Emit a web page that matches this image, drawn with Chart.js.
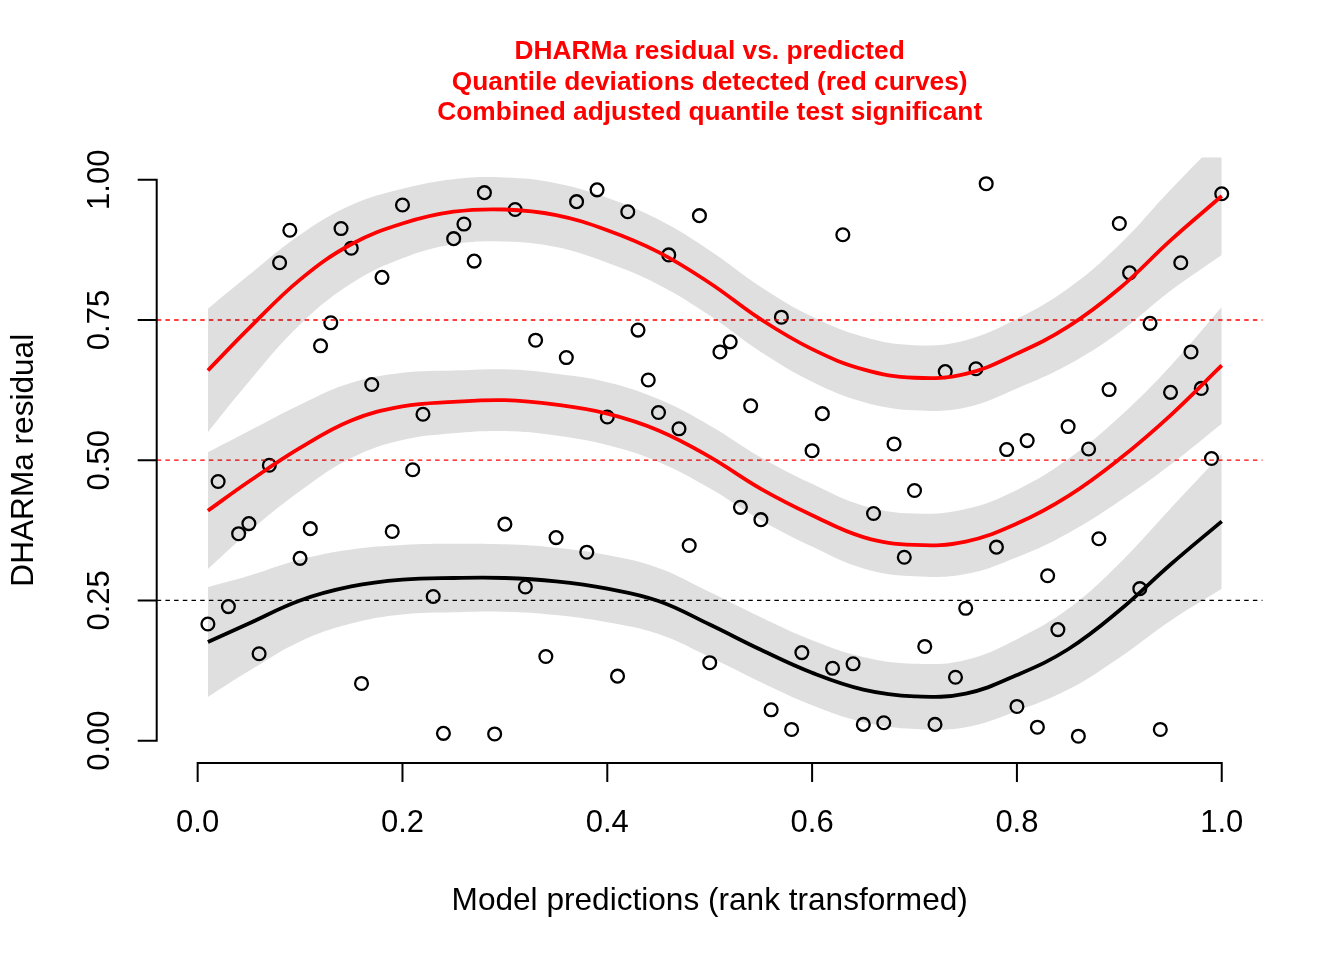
<!DOCTYPE html>
<html>
<head>
<meta charset="utf-8">
<script src="https://cdn.jsdelivr.net/npm/chart.js@4/dist/chart.umd.min.js"></script>
<style>
html,body{margin:0;padding:0;background:#ffffff;}
#wrap{width:1344px;height:960px;position:relative;}
canvas{display:block;}
</style>
</head>
<body>
<div id="wrap"><canvas id="c" width="1344" height="960"></canvas></div>
<script>
// ---------- texts ----------
const titleLines = [
  'DHARMa residual vs. predicted',
  'Quantile deviations detected (red curves)',
  'Combined adjusted quantile test significant'
];
const xAxisTitle = 'Model predictions (rank transformed)';
const yAxisTitle = 'DHARMa residual';

// ---------- axes ----------
const xLimits = [-0.04, 1.04];
const yLimits = [-0.04, 1.04];
const xTicks = [0, 0.2, 0.4, 0.6, 0.8, 1.0];
const xTickLabels = ['0.0', '0.2', '0.4', '0.6', '0.8', '1.0'];
const yTicks = [0, 0.25, 0.5, 0.75, 1.0];
const yTickLabels = ['0.00', '0.25', '0.50', '0.75', '1.00'];
const refLevels = [0.25, 0.5, 0.75];

// ---------- scaled residuals (rank transformed predictions) ----------
const predX = [
  0.01,0.02,0.03,0.04,0.05,0.06,0.07,0.08,0.09,0.10,
  0.11,0.12,0.13,0.14,0.15,0.16,0.17,0.18,0.19,0.20,
  0.21,0.22,0.23,0.24,0.25,0.26,0.27,0.28,0.29,0.30,
  0.31,0.32,0.33,0.34,0.35,0.36,0.37,0.38,0.39,0.40,
  0.41,0.42,0.43,0.44,0.45,0.46,0.47,0.48,0.49,0.50,
  0.51,0.52,0.53,0.54,0.55,0.56,0.57,0.58,0.59,0.60,
  0.61,0.62,0.63,0.64,0.65,0.66,0.67,0.68,0.69,0.70,
  0.71,0.72,0.73,0.74,0.75,0.76,0.77,0.78,0.79,0.80,
  0.81,0.82,0.83,0.84,0.85,0.86,0.87,0.88,0.89,0.90,
  0.91,0.92,0.93,0.94,0.95,0.96,0.97,0.98,0.99,1.00
];
const residual = [
  0.208,0.462,0.239,0.369,0.387,0.155,0.491,0.852,0.910,0.325,
  0.378,0.704,0.745,0.913,0.878,0.102,0.635,0.826,0.373,0.955,
  0.483,0.582,0.257,0.013,0.895,0.921,0.855,0.977,0.012,0.386,
  0.947,0.274,0.714,0.150,0.362,0.683,0.961,0.336,0.982,0.577,
  0.115,0.943,0.732,0.643,0.585,0.866,0.556,0.348,0.936,0.139,
  0.693,0.711,0.416,0.597,0.394,0.055,0.755,0.020,0.157,0.517,
  0.583,0.129,0.902,0.137,0.029,0.405,0.032,0.529,0.327,0.446,
  0.168,0.029,0.658,0.113,0.236,0.663,0.993,0.345,0.519,0.061,
  0.535,0.024,0.294,0.198,0.560,0.008,0.520,0.360,0.626,0.922,
  0.834,0.271,0.744,0.020,0.621,0.852,0.693,0.628,0.503,0.975
];

// ---------- quantile regression curves and their bands ----------
const curveX = [0.01,0.05,0.10,0.15,0.20,0.25,0.30,0.35,0.40,0.45,0.50,0.55,0.60,0.65,0.70,0.75,0.80,0.85,0.90,0.95,1.00];

const q25Fit = [0.176,0.209,0.250,0.275,0.287,0.290,0.290,0.284,0.271,0.249,0.207,0.162,0.121,0.091,0.079,0.084,0.117,0.163,0.232,0.314,0.391];
const q25Lo  = [0.078,0.124,0.177,0.209,0.225,0.229,0.230,0.224,0.211,0.190,0.149,0.104,0.063,0.033,0.021,0.024,0.053,0.091,0.148,0.214,0.271];
const q25Hi  = [0.274,0.294,0.323,0.341,0.349,0.351,0.350,0.344,0.331,0.308,0.265,0.220,0.179,0.149,0.137,0.144,0.181,0.235,0.316,0.414,0.511];

const q50Fit = [0.410,0.462,0.522,0.571,0.596,0.604,0.607,0.599,0.583,0.553,0.506,0.449,0.402,0.363,0.349,0.355,0.387,0.436,0.502,0.580,0.669];
const q50Lo  = [0.306,0.372,0.445,0.504,0.536,0.548,0.552,0.544,0.527,0.497,0.450,0.393,0.346,0.307,0.293,0.297,0.327,0.370,0.427,0.492,0.565];
const q50Hi  = [0.514,0.552,0.599,0.638,0.656,0.660,0.662,0.654,0.639,0.609,0.562,0.505,0.458,0.419,0.405,0.413,0.447,0.502,0.577,0.668,0.773];

const q75Fit = [0.660,0.735,0.822,0.885,0.922,0.943,0.947,0.937,0.910,0.871,0.816,0.751,0.698,0.662,0.647,0.654,0.690,0.738,0.806,0.892,0.971];
const q75Lo  = [0.550,0.640,0.742,0.815,0.860,0.885,0.890,0.880,0.852,0.813,0.758,0.693,0.640,0.604,0.589,0.594,0.628,0.670,0.728,0.802,0.866];
const q75Hi  = [0.770,0.830,0.902,0.955,0.984,1.001,1.004,0.994,0.968,0.929,0.874,0.809,0.756,0.720,0.705,0.714,0.752,0.806,0.884,0.982,1.076];

// ---------- build ----------
const FONT = "'Liberation Sans', Arial, Helvetica, sans-serif";
const RED = '#FF0000';
const BAND = 'rgba(0,0,0,0.1255)';
const pts = (xs, ys) => xs.map((x, i) => ({x: x, y: ys[i]}));

const datasets = [];
// points (bottom layer)
datasets.push({
  label: 'residuals', data: pts(predX, residual), showLine: false,
  pointStyle: 'circle', pointRadius: 6.4, pointHoverRadius: 6.4,
  pointBorderWidth: 2.3, pointBorderColor: '#000000',
  pointBackgroundColor: 'rgba(0,0,0,0)', order: 40
});
// reference dashed lines
refLevels.forEach((lv, k) => {
  datasets.push({
    label: 'ref' + lv, data: pts(xLimits, [lv, lv]), showLine: true,
    borderColor: k === 0 ? '#000000' : RED, borderWidth: 1.3, borderDash: [4.5, 4.2],
    pointRadius: 0, fill: false, order: 30
  });
});
// bands + curves
const quantiles = [
  {fit: q25Fit, lo: q25Lo, hi: q25Hi, col: '#000000'},
  {fit: q50Fit, lo: q50Lo, hi: q50Hi, col: RED},
  {fit: q75Fit, lo: q75Lo, hi: q75Hi, col: RED}
];
quantiles.forEach((q, k) => {
  const loIndex = datasets.length + 1;
  datasets.push({
    label: 'bandHi' + k, data: pts(curveX, q.hi), showLine: true, tension: 0.4,
    borderColor: 'rgba(0,0,0,0)', borderWidth: 0, pointRadius: 0,
    backgroundColor: BAND, fill: {target: loIndex}, order: 20
  });
  datasets.push({
    label: 'bandLo' + k, data: pts(curveX, q.lo), showLine: true, tension: 0.4,
    borderColor: 'rgba(0,0,0,0)', borderWidth: 0, pointRadius: 0, fill: false, order: 20
  });
  datasets.push({
    label: 'fit' + k, data: pts(curveX, q.fit), showLine: true, tension: 0.4,
    borderColor: q.col, borderWidth: 3.8, pointRadius: 0, fill: false, order: 10
  });
});

// R-style axes: line from first to last tick, ticks pointing outward
const rAxes = {
  id: 'rAxes',
  afterDatasetsDraw(chart) {
    const ctx = chart.ctx, ca = chart.chartArea;
    const xs = chart.scales.x, ys = chart.scales.y;
    const tl = 19;
    ctx.save();
    ctx.strokeStyle = '#000000';
    ctx.lineWidth = 2;
    ctx.lineJoin = 'miter';
    // x axis
    const yb = ca.bottom;
    const xp = xTicks.map(v => xs.getPixelForValue(v));
    ctx.beginPath();
    ctx.moveTo(xp[0], yb + tl);
    ctx.lineTo(xp[0], yb);
    ctx.lineTo(xp[xp.length - 1], yb);
    ctx.lineTo(xp[xp.length - 1], yb + tl);
    for (let i = 1; i < xp.length - 1; i++) { ctx.moveTo(xp[i], yb); ctx.lineTo(xp[i], yb + tl); }
    ctx.stroke();
    // y axis
    const xl = ca.left;
    const yp = yTicks.map(v => ys.getPixelForValue(v));
    ctx.beginPath();
    ctx.moveTo(xl - tl, yp[0]);
    ctx.lineTo(xl, yp[0]);
    ctx.lineTo(xl, yp[yp.length - 1]);
    ctx.lineTo(xl - tl, yp[yp.length - 1]);
    for (let i = 1; i < yp.length - 1; i++) { ctx.moveTo(xl, yp[i]); ctx.lineTo(xl - tl, yp[i]); }
    ctx.stroke();
    ctx.restore();
  }
};

new Chart(document.getElementById('c'), {
  type: 'scatter',
  data: {datasets: datasets},
  plugins: [rAxes],
  options: {
    responsive: false,
    animation: false,
    devicePixelRatio: 1,
    events: [],
    layout: {padding: {left: 0, right: 81.3, top: 0, bottom: 0}},
    plugins: {
      legend: {display: false},
      tooltip: {enabled: false},
      title: {
        display: true, text: titleLines, color: RED, fullSize: false,
        font: {family: FONT, size: 26.3, weight: 'bold', lineHeight: 1.16},
        padding: {top: 36.7, bottom: 29.1}
      }
    },
    scales: {
      x: {
        type: 'linear', position: 'bottom', min: xLimits[0], max: xLimits[1],
        afterBuildTicks: s => { s.ticks = xTicks.map(v => ({value: v})); },
        afterFit: s => { s.height = 196.9; },
        grid: {display: false, drawTicks: false, tickLength: 0},
        border: {display: false},
        ticks: {
          autoSkip: false, minRotation: 0, maxRotation: 0, padding: 45,
          color: '#000000', font: {family: FONT, size: 31, lineHeight: 1},
          callback: (v, i) => xTickLabels[i]
        },
        title: {
          display: true, text: xAxisTitle, color: '#000000',
          font: {family: FONT, size: 31.6, lineHeight: 1},
          padding: {top: 0, bottom: 43}
        }
      },
      y: {
        type: 'linear', position: 'left', min: yLimits[0], max: yLimits[1],
        afterBuildTicks: s => { s.ticks = yTicks.map(v => ({value: v})); },
        afterFit: s => { s.width = 156.7; },
        grid: {display: false, drawTicks: false, tickLength: 0},
        border: {display: false},
        ticks: {
          autoSkip: false, minRotation: 90, maxRotation: 90, crossAlign: 'center', padding: 26,
          color: '#000000', font: {family: FONT, size: 31, lineHeight: 1},
          callback: (v, i) => yTickLabels[i]
        },
        title: {
          display: true, text: yAxisTitle, color: '#000000',
          font: {family: FONT, size: 31.6, lineHeight: 1},
          padding: {top: 8.5, bottom: 0}
        }
      }
    }
  }
});
</script>
</body>
</html>
